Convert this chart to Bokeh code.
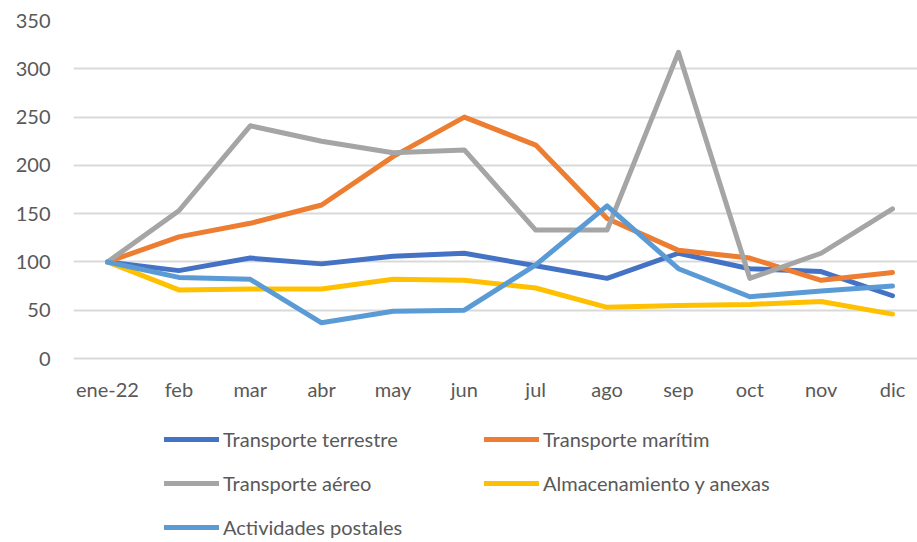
from bokeh.plotting import figure
from bokeh.models import Range1d, FixedTicker, Legend, LegendItem, ColumnDataSource
from bokeh.core.properties import value
from bokeh.embed import file_html
from bokeh.resources import INLINE

months = ["ene-22", "feb", "mar", "abr", "may", "jun", "jul", "ago", "sep", "oct", "nov", "dic"]
y_ticks = [0, 50, 100, 150, 200, 250, 300, 350]

terrestre = [100, 91, 104, 98, 106, 109, 96, 83, 109, 93, 90, 65]
maritimo = [100, 126, 140, 159, 209, 250, 221, 145, 112, 104, 81, 89]
aereo = [100, 153, 241, 225, 213, 216, 133, 133, 317, 83, 109, 155]
almacen = [100, 71, 72, 72, 82, 81, 73, 53, 55, 56, 59, 46]
postales = [100, 84, 82, 37, 49, 50, 97, 158, 93, 64, 70, 75]

series = [
    ("Transporte terrestre", terrestre, "#4472C4"),
    ("Transporte marítim", maritimo, "#ED7D31"),
    ("Transporte aéreo", aereo, "#A5A5A5"),
    ("Almacenamiento y anexas", almacen, "#FFC000"),
    ("Actividades postales", postales, "#5B9BD5"),
]

FONT = "Lato"
TXT = "#595959"
FS = "20px"

x = list(range(len(months)))

# frame extends below the axis so the legend can sit inside it
p = figure(width=917, height=542, output_backend="svg", toolbar_location=None,
           x_range=Range1d(-0.4765, 11.35), y_range=Range1d(-190.5, 350),
           x_axis_location=None,
           min_border_left=73, min_border_top=20, min_border_right=0,
           min_border_bottom=0)
p.outline_line_color = None
p.background_fill_color = "white"
p.border_fill_color = "white"

renderers = []
for name, vals, col in series:
    r = p.line(x, vals, line_color=col, line_width=5, line_join="round", line_cap="round")
    renderers.append((name, r))

# month labels along the zero line
lab_src = ColumnDataSource(dict(x=x, y=[0] * len(months), t=months))
p.text(x="x", y="y", text="t", source=lab_src, y_offset=30,
       text_align="center", text_baseline="middle",
       text_font=value(FONT), text_font_size=FS, text_color=TXT)

p.xgrid.visible = False
p.ygrid.grid_line_color = "#D9D9D9"
p.ygrid.grid_line_width = 2
p.yaxis.ticker = FixedTicker(ticks=y_ticks)

ax = p.yaxis[0]
ax.axis_line_color = None
ax.major_tick_line_color = None
ax.minor_tick_line_color = None
ax.major_tick_out = 0
ax.major_tick_in = 0
ax.major_label_text_font = FONT
ax.major_label_text_font_size = FS
ax.major_label_text_color = TXT
ax.major_label_standoff = 23

items = [LegendItem(label=n, renderers=[r]) for n, r in renderers]
legend = Legend(items=items, ncols=2, orientation="horizontal", location=(91, 3),
                glyph_width=55, glyph_height=20, label_height=20,
                label_width=241, label_standoff=4, spacing=20,
                padding=0, margin=0,
                label_text_font=FONT, label_text_font_size=FS,
                label_text_color=TXT,
                border_line_color=None, background_fill_alpha=0)
p.add_layout(legend, "center")

open("out.html", "w").write(file_html(p, INLINE))
